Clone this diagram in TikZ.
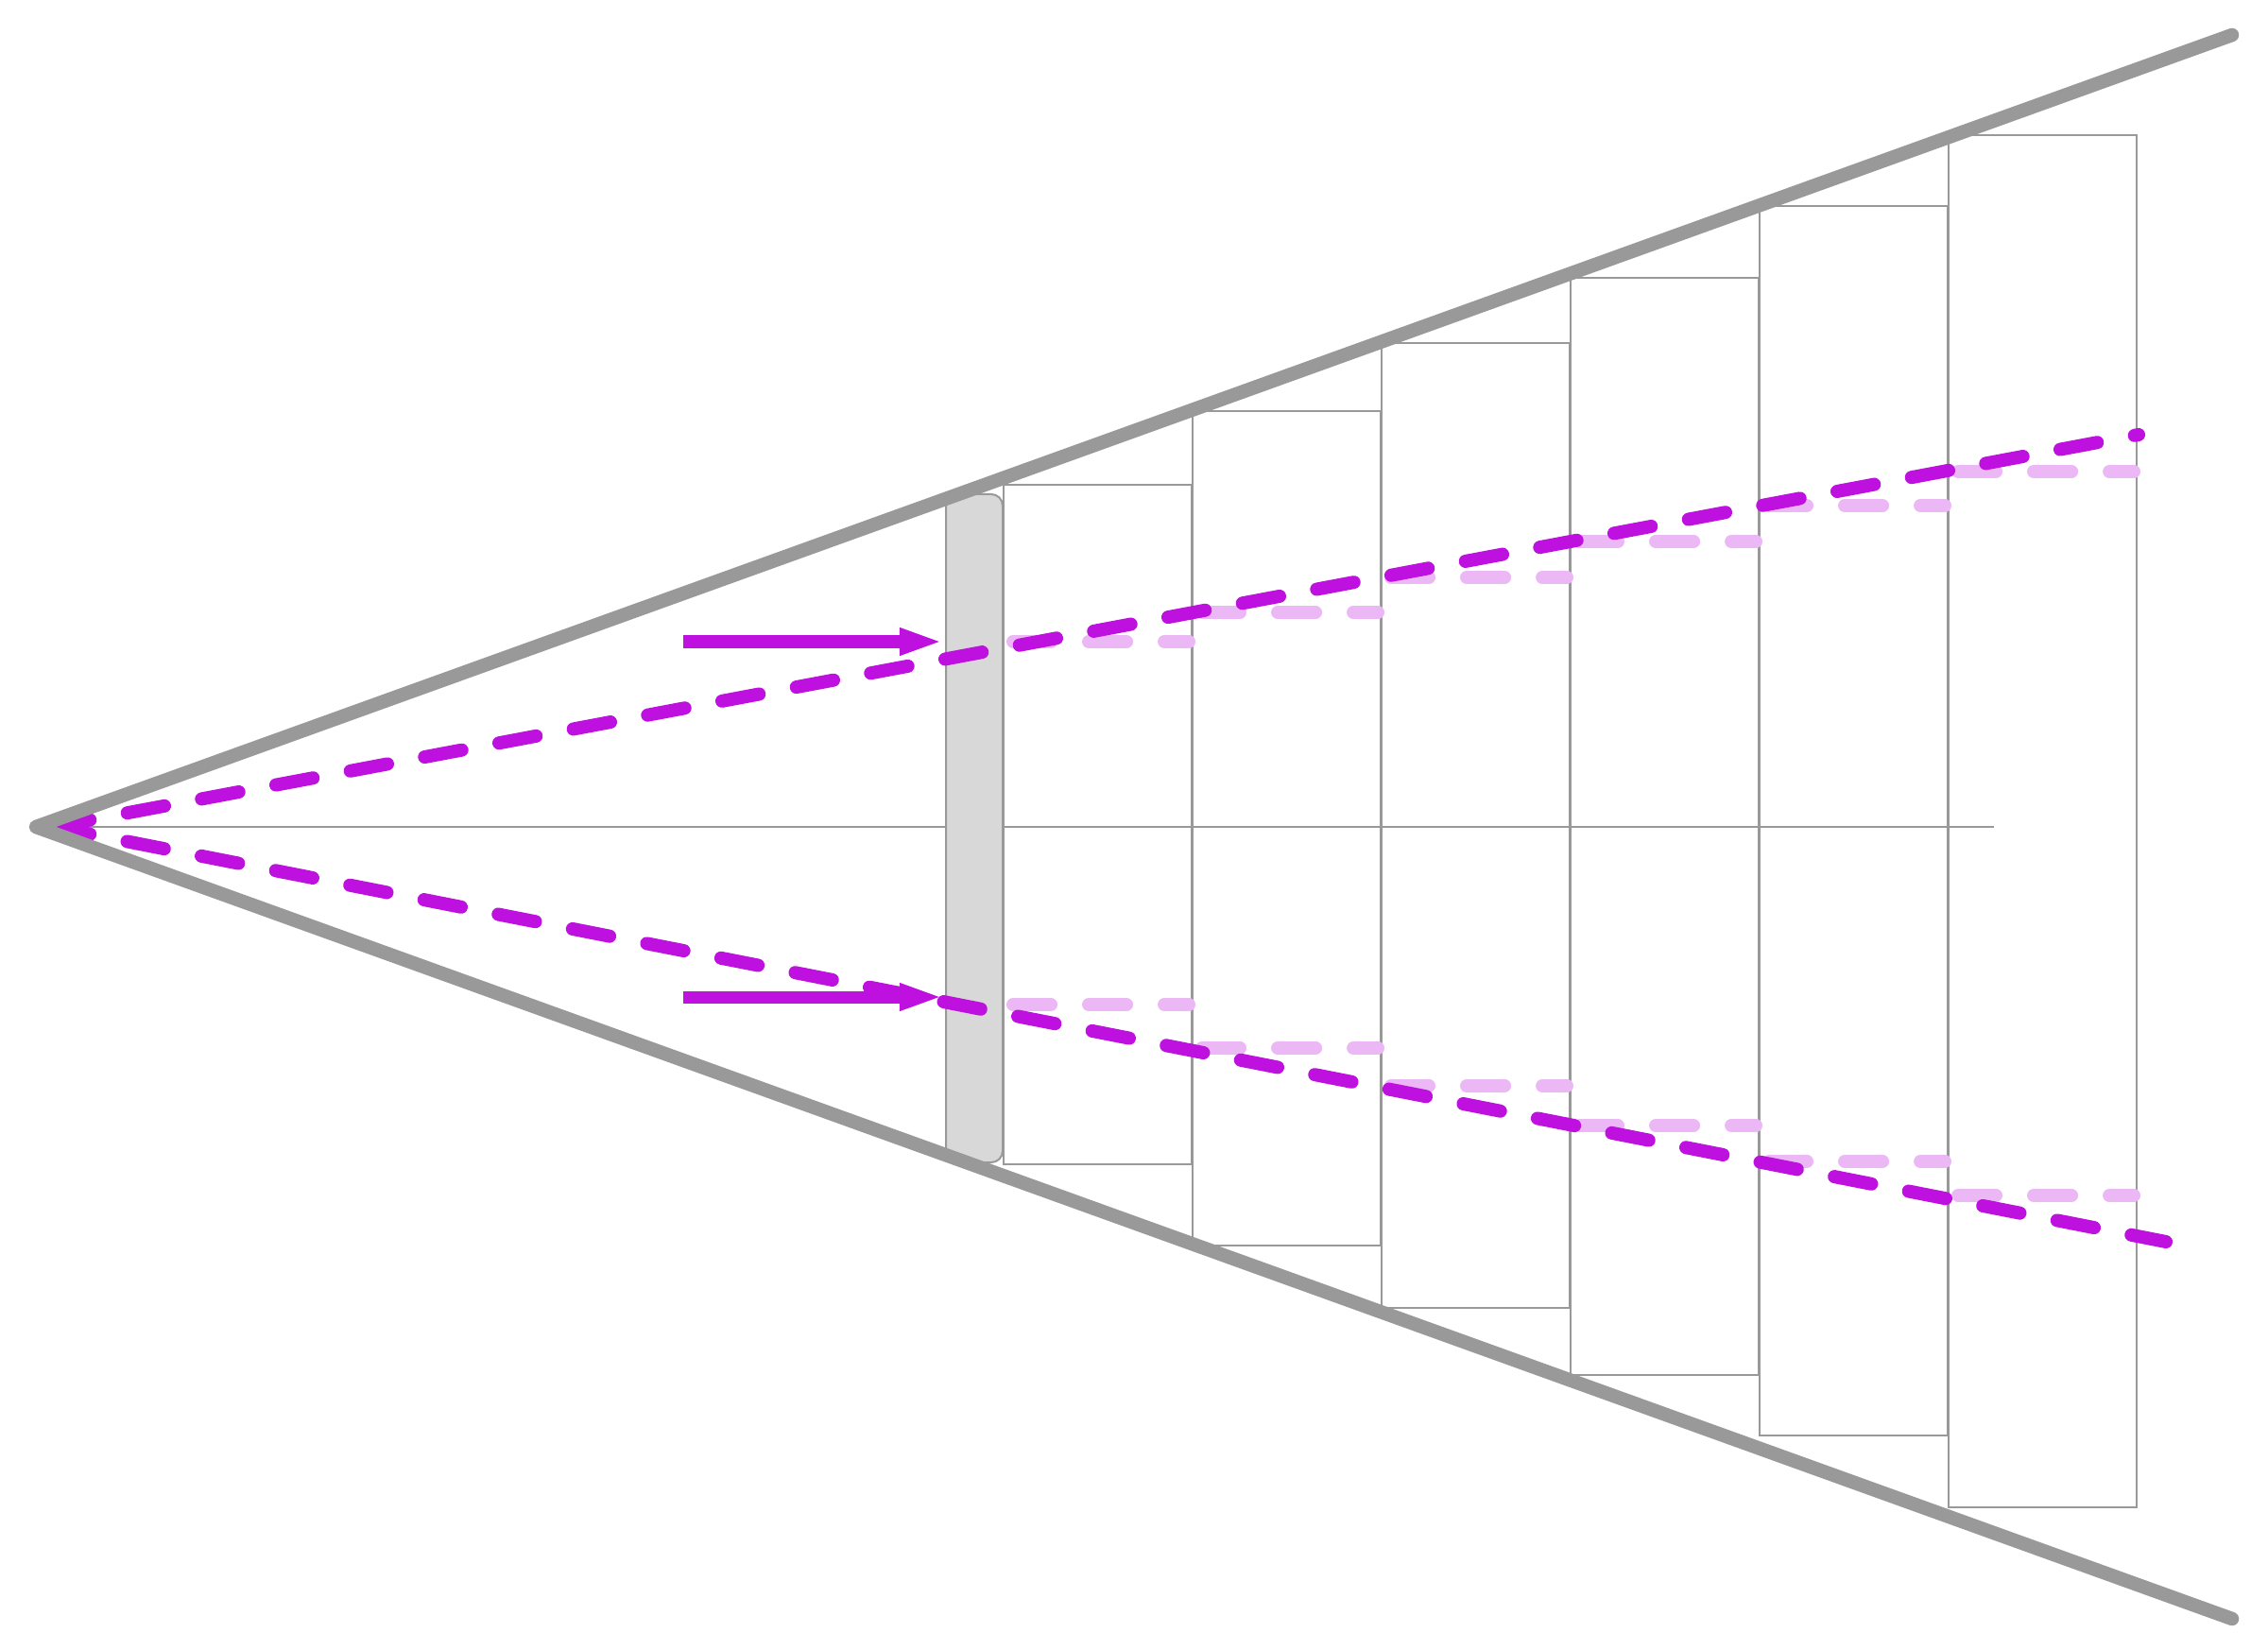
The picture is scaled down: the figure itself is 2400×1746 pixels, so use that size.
\documentclass[tikz,border=0pt]{standalone}
\usepackage{tikz}
\usetikzlibrary{arrows.meta}
\tikzstyle{plan} = [x = 0.01cm, y = -0.01cm]
\definecolor{coneGray}{RGB}{153,153,153}
\definecolor{lensGray}{RGB}{216,216,216}
\definecolor{rayColor}{RGB}{190,16,222}
\colorlet{rayFaintColor}{rayColor!30!white}
\tikzstyle{coneLine} = [color=coneGray, line width=0.145cm, line cap=round, line join=round]
\tikzstyle{boxLine} = [color=coneGray, line width=0.02cm]
\tikzstyle{lensStyle} = [draw=coneGray, fill=lensGray, line width=0.02cm, rounded corners=0.12cm]
\tikzstyle{rayLine} = [color=rayColor, line width=0.14cm, line cap=round, dash pattern=on 0.4cm off 0.4cm]
\tikzstyle{rayFaint} = [color=rayFaintColor, line width=0.14cm, line cap=round, dash pattern=on 0.4cm off 0.4cm]
\tikzstyle{beamArrow} = [color=rayColor, line width=0.13cm, -{Triangle[length=0.46cm, width=0.26cm]}]
\newcommand{\stageBox}[3]{\draw [boxLine] (#1, #2) rectangle + (199, #3 - #2);}
\newcommand{\faintRay}[2]{\draw [rayFaint] (#1 + 10, #2) -- + (186, 0);}

\begin{document}
\begin{tikzpicture}[plan]
  \useasboundingbox (0,0) rectangle (2400,1746);
  \coordinate (apex) at (38,875);
  \coordinate (coneTop) at (2362,37);
  \coordinate (coneBottom) at (2362,1713);
  \coordinate (axisEnd) at (2110,875);
  \coordinate (rayStart) at (56,875);
  \coordinate (rayTopEnd) at (2263,460);
  \coordinate (rayBottomEnd) at (2292,1314);
  \coordinate (arrowTopTail) at (723,679);
  \coordinate (arrowTopTip) at (998,679);
  \coordinate (arrowBottomTail) at (723,1055);
  \coordinate (arrowBottomTip) at (998,1055);

  % stages behind the lens
  \foreach \col/\boxTop/\boxBottom in {1062/513/1232, 1262/435/1318, 1462/363/1384,
      1662/294/1455, 1862/218/1519, 2062/143/1595} {
    \stageBox{\col}{\boxTop}{\boxBottom}
  }
  \draw [boxLine] (apex) -- (axisEnd);

  % lens
  \draw [lensStyle] (1001,523) rectangle (1061,1230);

  % faint rows, one per stage
  \foreach \col/\rowUp/\rowDown in {1062/679/1063, 1262/648/1109, 1462/611/1149,
      1662/573/1191, 1862/535/1229, 2062/499/1265} {
    \faintRay{\col}{\rowUp}
    \faintRay{\col}{\rowDown}
  }

  % rays
  \draw [rayLine] (rayStart) -- (rayTopEnd);
  \draw [rayLine] (rayStart) -- (rayBottomEnd);
  \draw [beamArrow] (arrowTopTail) -- (arrowTopTip);
  \draw [beamArrow] (arrowBottomTail) -- (arrowBottomTip);

  % cone
  \draw [coneLine] (coneTop) -- (apex) -- (coneBottom);
\end{tikzpicture}
\end{document}
